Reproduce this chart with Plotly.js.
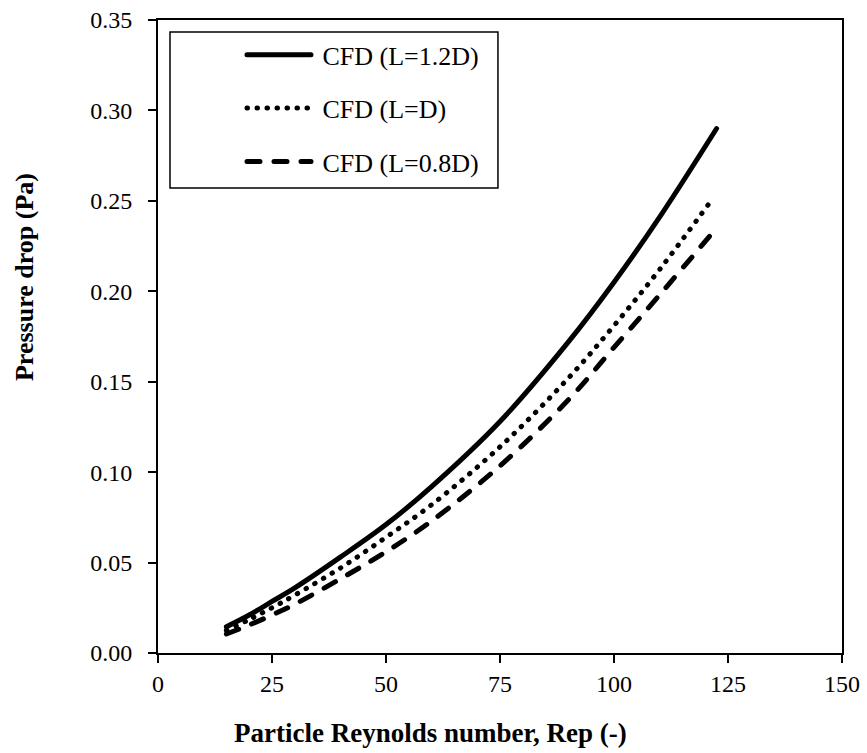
<!DOCTYPE html>
<html>
<head>
<meta charset="utf-8">
<script src="https://cdn.plot.ly/plotly-3.0.1.min.js"></script>
<style>
  html, body { margin: 0; padding: 0; background: #fff; }
  #chart { width: 867px; height: 753px; }
  .js-line { stroke-linecap: round; }
</style>
</head>
<body>
<div id="chart"></div>
<script>
// Particle Reynolds number (Rep) and pressure drop (Pa)
const rep12 = [15, 20, 25, 30, 40, 50, 60, 75, 90, 100, 110, 122.5];
const dp12  = [0.0145, 0.021, 0.0285, 0.036, 0.053, 0.071, 0.092, 0.128, 0.172, 0.205, 0.241, 0.290];

const rep10 = [15, 20, 25, 30, 40, 50, 60, 75, 90, 100, 110, 121];
const dp10  = [0.0125, 0.0185, 0.025, 0.032, 0.047, 0.064, 0.082, 0.114, 0.152, 0.181, 0.212, 0.249];

const rep08 = [15, 20, 25, 30, 40, 50, 60, 75, 90, 100, 110, 121.5];
const dp08  = [0.0105, 0.0155, 0.021, 0.027, 0.041, 0.056, 0.073, 0.1035, 0.140, 0.169, 0.198, 0.232];

const seriesNames = ["CFD (L=1.2D)", "CFD (L=D)", "CFD (L=0.8D)"];
const xTicks = [0, 25, 50, 75, 100, 125, 150];
const yTicks = [0, 0.05, 0.10, 0.15, 0.20, 0.25, 0.30, 0.35];
const xTitle = "Particle Reynolds number, Rep (-)";
const yTitle = "Pressure drop (Pa)";

const FONT = "Liberation Serif, Times New Roman, serif";
const NBSP = "\u00A0";

const traces = [
  {x: rep12, y: dp12, name: NBSP + seriesNames[0], mode: "lines", line: {color: "#000", width: 5, shape: "spline"}, legendgroup: "a"},
  {x: rep10, y: dp10, name: NBSP + seriesNames[1], mode: "lines", line: {color: "#000", width: 5, dash: "0.5px,9.5px", shape: "spline"}, legendgroup: "b"},
  {x: rep08, y: dp08, name: NBSP + seriesNames[2], mode: "lines", line: {color: "#000", width: 5, dash: "13px,14px", shape: "spline"}, legendgroup: "c"}
];

const axisCommon = {
  showline: true, linecolor: "#000", linewidth: 2, mirror: true,
  ticks: "outside", ticklen: 8, tickwidth: 2, tickcolor: "#000",
  showgrid: false, zeroline: false,
  tickfont: {family: FONT, size: 24, color: "#000"}
};

const layout = {
  width: 867, height: 753,
  margin: {l: 158, r: 25, t: 20, b: 100},
  paper_bgcolor: "#fff", plot_bgcolor: "#fff",
  showlegend: true,
  xaxis: Object.assign({}, axisCommon, {
    range: [0, 150], tickvals: xTicks, ticktext: xTicks.map(String),
    ticklabelstandoff: 0
  }),
  yaxis: Object.assign({}, axisCommon, {
    range: [0, 0.35], tickvals: yTicks, ticktext: yTicks.map(v => v.toFixed(2)),
    ticklabelstandoff: 11
  }),
  legend: {
    x: 0.1228, y: 0.982, xanchor: "left", yanchor: "top",
    borderwidth: 0, bgcolor: "rgba(0,0,0,0)",
    font: {family: FONT, size: 26, color: "#000"},
    itemwidth: 64, traceorder: "grouped", tracegroupgap: 16.5
  },
  shapes: [{
    type: "rect", xref: "paper", yref: "paper",
    x0: 0.01754, x1: 0.497, y0: 0.7346, y1: 0.981,
    line: {color: "#000", width: 1.5}, fillcolor: "rgba(0,0,0,0)", layer: "above"
  }],
  annotations: [
    {text: "<b>" + xTitle + "</b>", xref: "paper", yref: "paper", x: 0.3977, y: -0.1264,
     xanchor: "center", yanchor: "middle", showarrow: false,
     font: {family: FONT, size: 27, color: "#000"}},
    {text: "<b>" + yTitle + "</b>", xref: "paper", yref: "paper", x: -0.1944, y: 0.594,
     xanchor: "center", yanchor: "middle", showarrow: false, textangle: -90,
     font: {family: FONT, size: 26, color: "#000"}}
  ]
};

Plotly.newPlot("chart", traces, layout, {displayModeBar: false, staticPlot: true});
</script>
</body>
</html>
